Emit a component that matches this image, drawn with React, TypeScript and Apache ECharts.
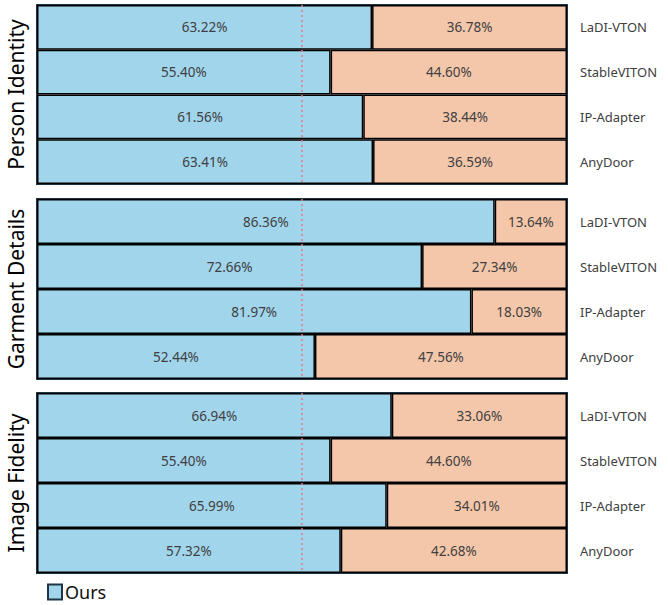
import React, { useEffect, useRef } from "react";
import * as echarts from "echarts";

const categories = ["LaDI-VTON", "StableVITON", "IP-Adapter", "AnyDoor"];
const panelTitles = ["Person Identity", "Garment Details", "Image Fidelity"];

const personOurs = [63.22, 55.4, 61.56, 63.41];
const personOthers = [36.78, 44.6, 38.44, 36.59];
const garmentOurs = [86.36, 72.66, 81.97, 52.44];
const garmentOthers = [13.64, 27.34, 18.03, 47.56];
const fidelityOurs = [66.94, 55.4, 65.99, 57.32];
const fidelityOthers = [33.06, 44.6, 34.01, 42.68];

const oursSets = [personOurs, garmentOurs, fidelityOurs];
const othersSets = [personOthers, garmentOthers, fidelityOthers];

const BLUE = "#a1d5ec";
const ORANGE = "#f5c7aa";
const FONT = "Noto Sans";

export default function App() {
  const ref = useRef<HTMLDivElement>(null);
  useEffect(() => {
    if (!ref.current) return;
    const chart = echarts.init(ref.current, null, { renderer: "svg" });
    const tops = [5, 199, 393];
    const heights = [179, 180, 180];
    const grids = tops.map((t, i) => ({
      left: 37,
      right: 101,
      top: t,
      height: heights[i],
      show: true,
      borderColor: "#1d3445",
      borderWidth: 2,
      backgroundColor: "transparent",
    }));
    const xAxes = tops.map((_, i) => ({
      type: "value",
      gridIndex: i,
      min: 0,
      max: 100,
      show: false,
    }));
    const yAxes = tops.map((_, i) => ({
      type: "category",
      gridIndex: i,
      data: categories,
      inverse: true,
      position: "right",
      axisLine: { show: false },
      axisTick: { show: false },
      splitLine: { show: false },
      axisLabel: { color: "#404040", fontSize: 13, fontFamily: FONT, margin: 13 },
    }));
    const labelCfg = {
      show: true,
      position: "inside",
      color: "#404040",
      fontSize: 13.5,
      fontFamily: FONT,
      formatter: (p: any) => p.value.toFixed(2) + "%",
    };
    const series: any[] = [];
    tops.forEach((_, i) => {
      series.push({
        name: "Ours",
        type: "bar",
        stack: "s" + i,
        xAxisIndex: i,
        yAxisIndex: i,
        data: oursSets[i],
        barCategoryGap: "0%",
        itemStyle: { color: BLUE, borderColor: "#000", borderWidth: 1.5 },
        label: labelCfg,
        markLine: {
          silent: true,
          symbol: "none",
          label: { show: false },
          lineStyle: { color: "#e47a8c", type: [2, 3], width: 1.5 },
          data: [{ xAxis: 50 }],
        },
      });
      series.push({
        name: "Others",
        type: "bar",
        stack: "s" + i,
        xAxisIndex: i,
        yAxisIndex: i,
        data: othersSets[i],
        barCategoryGap: "0%",
        itemStyle: { color: ORANGE, borderColor: "#000", borderWidth: 1.5 },
        label: labelCfg,
      });
    });
    const graphics = tops.map((t, i) => ({
      type: "text",
      x: 16,
      y: t + heights[i] / 2,
      rotation: Math.PI / 2,
      style: {
        text: panelTitles[i],
        fontSize: 21,
        fontFamily: FONT,
        fill: "#000",
        align: "center",
        verticalAlign: "middle",
      },
    }));
    chart.setOption({
      animation: false,
      grid: grids,
      xAxis: xAxes,
      yAxis: yAxes,
      series,
      graphic: graphics,
      legend: {
        data: [{ name: "Ours", itemStyle: { color: BLUE, borderColor: "#1d3445", borderWidth: 2 } }],
        left: 47,
        top: 583,
        padding: 0,
        icon: "rect",
        itemWidth: 14,
        itemHeight: 15,
        itemGap: 4,
        textStyle: { fontSize: 18, fontFamily: FONT, color: "#111", padding: [0, 0, 0, -2] },
      },
    });
    return () => chart.dispose();
  }, []);
  return (
    <div
      ref={ref}
      style={{ position: "fixed", left: 0, top: 0, width: 668, height: 605, background: "#fff" }}
    />
  );
}
